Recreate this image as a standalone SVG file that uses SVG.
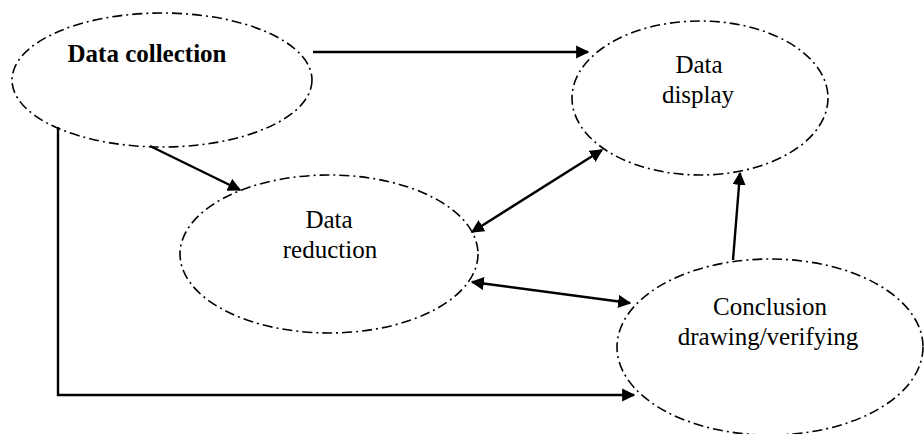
<svg xmlns="http://www.w3.org/2000/svg" width="924" height="434" viewBox="0 0 924 434">
<style>
.node ellipse{fill:none;stroke:#000;stroke-width:1.6;stroke-dasharray:10,4,2,4}
.lbl{font-family:"Liberation Serif","Times New Roman",serif;font-size:25px;fill:#000;text-anchor:middle}
.conn path{fill:none;stroke:#000;stroke-width:2.4}
</style>
<defs>
<marker id="ah" viewBox="0 0 10 10" refX="9" refY="5" markerWidth="5.5" markerHeight="5.5" orient="auto-start-reverse" markerUnits="strokeWidth">
<path d="M0,0 L10,5 L0,10 z" fill="#000"/>
</marker>
</defs>
<rect width="924" height="434" fill="#fff"/>
<g id="data-collection" class="node">
<ellipse cx="162" cy="80" rx="150" ry="67"/>
<text class="lbl" x="147" y="62" font-weight="bold" font-size="24">Data collection</text>
</g>
<g id="data-display" class="node">
<ellipse cx="700" cy="98" rx="128" ry="77"/>
<text class="lbl" x="699" y="73">Data</text>
<text class="lbl" x="698" y="103">display</text>
</g>
<g id="data-reduction" class="node">
<ellipse cx="329" cy="254" rx="149" ry="79"/>
<text class="lbl" x="329" y="228">Data</text>
<text class="lbl" x="330" y="258">reduction</text>
</g>
<g id="conclusion" class="node">
<ellipse cx="770" cy="347" rx="153" ry="88"/>
<text class="lbl" x="770" y="315">Conclusion</text>
<text class="lbl" x="768" y="345">drawing/verifying</text>
</g>
<g id="connectors" class="conn">
<path d="M313,52 L588,52" stroke-width="3" marker-end="url(#ah)"/>
<path d="M150,146 L240,190" marker-end="url(#ah)"/>
<path d="M58,127 L58,395 L634,395" marker-end="url(#ah)"/>
<path d="M472,232 L602,150" marker-start="url(#ah)" marker-end="url(#ah)"/>
<path d="M733,260 L740,173" marker-end="url(#ah)"/>
<path d="M472,282 L630,303" marker-start="url(#ah)" marker-end="url(#ah)"/>
</g>
</svg>
